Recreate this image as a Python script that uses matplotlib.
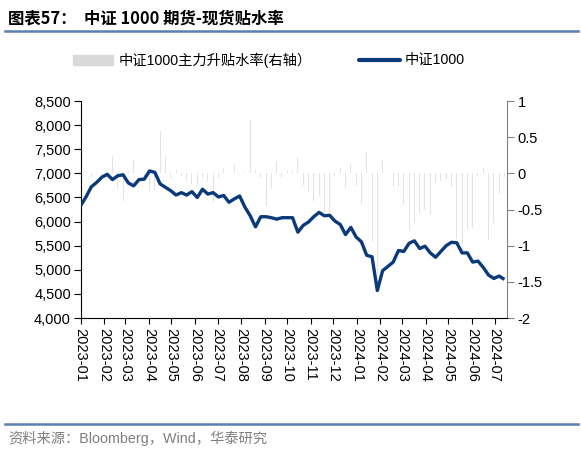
import matplotlib
matplotlib.use("Agg")
import matplotlib.pyplot as plt
import matplotlib.dates as mdates
import pandas as pd
import numpy as np

# ---- data ----
start_date = "2023-01-01"
index_values = [6330, 6510, 6720, 6810, 6920, 6980, 6870, 6950, 6970, 6800,
                6740, 6870, 6880, 7050, 7020, 6780, 6710, 6640, 6550, 6600,
                6550, 6620, 6500, 6670, 6570, 6600, 6510, 6540, 6400, 6470,
                6530, 6300, 6120, 5890, 6100, 6100, 6080, 6050, 6080, 6080,
                6080, 5780, 5920, 5990, 6100, 6190, 6120, 6130, 6010, 5940,
                5730, 5880, 5680, 5580, 5300, 5270, 4570, 4980, 5070, 5160,
                5400, 5380, 5550, 5600, 5440, 5490, 5350, 5260, 5380, 5500,
                5570, 5560, 5350, 5350, 5160, 5180, 5050, 4890, 4820, 4870,
                4800]
basis_values = [0.07, 0.38, -0.05, 0.02, -0.03, 0.03, 0.24, -0.22, -0.38, 0.03,
                0.18, 0.02, -0.04, -0.24, -0.23, 0.59, 0.23, -0.06, 0.04, -0.03,
                -0.10, -0.15, -0.18, -0.07, -0.12, -0.40, -0.07, 0.07, -0.07, 0.13,
                0.01, 0.02, 0.74, 0.04, -0.07, -0.45, -0.22, 0.17, -0.07, 0.03,
                0.05, 0.23, -0.16, -0.26, -0.38, -0.32, -0.53, -0.55, -0.04, 0.07,
                -0.20, 0.13, -0.18, -0.42, 0.29, -0.95, -1.40, 0.19, 0.00, -0.17,
                -0.18, -0.42, -0.80, -0.67, -0.55, -0.50, -0.56, -0.13, -0.10, -0.08,
                -0.19, -0.90, -1.00, -0.77, -0.75, -0.03, 0.08, -0.92, -0.68, -0.28,
                -0.05]
dates = pd.date_range(start_date, periods=len(index_values), freq="7D")
left_ticks = [4000, 4500, 5000, 5500, 6000, 6500, 7000, 7500, 8000, 8500]
right_ticks = [-2, -1.5, -1, -0.5, 0, 0.5, 1]
month_ticks = pd.date_range("2023-01-01", "2024-07-01", freq="MS")

title = "图表57：  中证 1000 期货-现货贴水率"
legend_bar = "中证1000主力升贴水率(右轴）"
legend_line = "中证1000"
source = "资料来源：Bloomberg，Wind，华泰研究"

# ---- style ----
FAM = ["Liberation Sans", "Noto Sans CJK SC", "DejaVu Sans"]
plt.rcParams["font.family"] = FAM
LINE_C = "#0a3a7a"
BAR_C = "#e3e3e3"
LEG_BAR_C = "#d9d9d9"
RULE_C = "#5b7fb0"

fig = plt.figure(figsize=(5.81, 4.49), dpi=100)
ax = fig.add_axes([80.7/581, 1-318/449, (506.7-80.7)/581, (318-101)/449])
ax2 = ax.twinx()

ax2.bar(dates, basis_values, width=1.3, color=BAR_C, zorder=1)
ax.plot(dates, index_values, color=LINE_C, lw=2.4, solid_capstyle="butt", zorder=3)
ax.set_zorder(ax2.get_zorder() + 1)
ax.patch.set_visible(False)

ax.set_ylim(4000, 8500)
ax.set_yticks(left_ticks)
ax.set_yticklabels([f"{v:,}" for v in left_ticks], fontsize=10.5)
ax2.set_ylim(-2, 1)
ax2.set_yticks(right_ticks)
ax2.set_yticklabels([f"{v:g}" for v in right_ticks], fontsize=10.5)

ax.set_xlim(dates[0], dates[-1] + pd.Timedelta(days=3))
ax.set_xticks(month_ticks)
ax.set_xticklabels([d.strftime("%Y-%m") for d in month_ticks], rotation=-90,
                   fontsize=10.5, va="top", ha="center")

for a in (ax, ax2):
    a.spines["top"].set_visible(False)
ax.spines["right"].set_visible(False)
ax2.spines["left"].set_visible(False)
ax2.spines["bottom"].set_visible(False)
ax2.spines["right"].set_color("#808080")
ax.spines["left"].set_color("black")
ax.spines["bottom"].set_color("black")
ax.tick_params(axis="y", direction="out", length=5, width=0.8, pad=2)
ax.tick_params(axis="x", direction="out", length=4, width=0.8, pad=3)
ax2.tick_params(axis="y", direction="out", length=5, width=0.8, color="#808080", pad=3)

# title & rules
fig.text(8/581, 1-18/449, title, fontsize=11.8, fontweight="bold",
         family=["Noto Sans CJK SC", "DejaVu Sans"], va="center", ha="left")
fig.add_artist(plt.Line2D([5/581, 578/581], [1-30.5/449, 1-30.5/449],
                          color=RULE_C, lw=1.8, transform=fig.transFigure))
fig.add_artist(plt.Line2D([5/581, 578/581], [1-424/449, 1-424/449],
                          color=RULE_C, lw=1.8, transform=fig.transFigure))
fig.text(8/581, 1-438/449, source, fontsize=10.3, color="#7f7f7f",
         family=["Liberation Sans", "Noto Sans CJK SC"], va="center", ha="left")

# legend
ly = 1 - 60/449
fig.add_artist(plt.Rectangle((73/581, ly - 5/449), 40/581, 10/449,
                             color=LEG_BAR_C, transform=fig.transFigure))
fig.text(119/581, ly, legend_bar, fontsize=10.3,
         family=["Liberation Sans", "Noto Sans CJK SC"], va="center", ha="left")
fig.add_artist(plt.Line2D([359/581, 400/581], [ly, ly], color=LINE_C, lw=3,
                          solid_capstyle="round", transform=fig.transFigure))
fig.text(405/581, ly, legend_line, fontsize=10.3,
         family=["Liberation Sans", "Noto Sans CJK SC"], va="center", ha="left")

fig.savefig("out.png", dpi=100)
